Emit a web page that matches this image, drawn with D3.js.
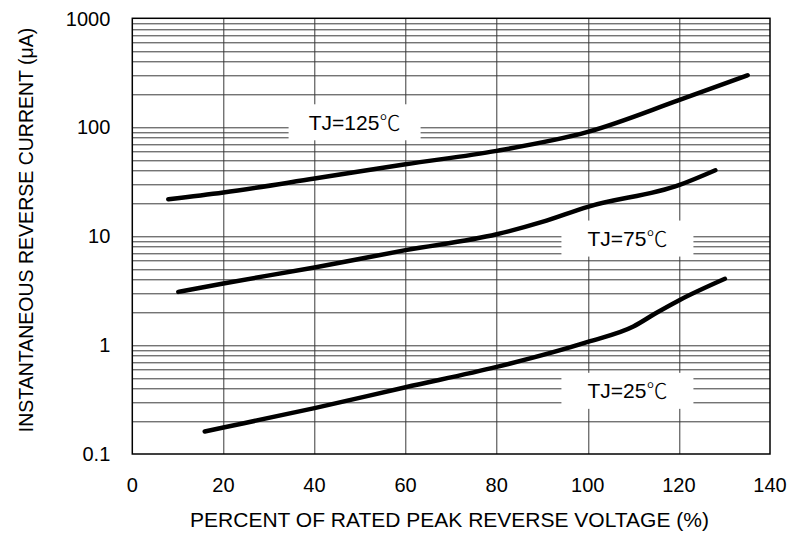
<!DOCTYPE html>
<html>
<head>
<meta charset="utf-8">
<script src="https://cdn.jsdelivr.net/npm/d3@7"></script>
<style>
  body { margin: 0; background: #fff; }
  text { font-family: "Liberation Sans", Arial, "Noto Sans CJK SC", sans-serif; fill: #000; }
</style>
</head>
<body>
<div id="chart"></div>
<script>
var margin = { top: 18.3, right: 38, bottom: 81, left: 132.3 },
  W = 808, H = 535,
  width = W - margin.left - margin.right,
  height = H - margin.top - margin.bottom;

// curves: [percent, uA]
var tj125 = [[7.9, 21.8], [20, 25.2], [40, 33.8], [60, 45.7], [80, 60.7], [100, 90.5], [120, 177], [135.1, 300]];
var tj75 = [[10.1, 3.08], [20, 3.68], [40, 5.16], [60, 7.44], [80, 10.4], [90, 13.5], [100, 18.6], [120, 29.4], [128, 40.3]];
var tj25 = [[15.9, 0.161], [20, 0.175], [40, 0.264], [60, 0.41], [80, 0.63], [100, 1.07], [110, 1.48], [115, 1.97], [120, 2.57], [130.1, 4.06]];
var curveLabels = ["TJ=125", "TJ=75", "TJ=25"];
var labelX = [48.8, 108.7, 108.7];
var labelY = [111, 9.5, 0.38];
var xTicks = [0, 20, 40, 60, 80, 100, 120, 140];
var yTicks = [0.1, 1, 10, 100, 1000];
var yTickLabels = ["0.1", "1", "10", "100", "1000"];

var svg = d3.select("#chart").append("svg")
    .attr("width", W)
    .attr("height", H);

var g = svg.append("g")
    .attr("transform", "translate(" + margin.left + "," + margin.top + ")");

var x = d3.scaleLinear().domain([0, 140]).range([0, width]);
var y = d3.scaleLog().domain([0.1, 1000]).range([height, 0]);

// minor log grid
var minor = [];
[0.1, 1, 10, 100].forEach(function (dec) {
  for (var k = 2; k <= 9; k++) minor.push(dec * k);
});

g.selectAll(".hgrid")
    .data(minor.concat(yTicks.slice(1, 4)))
    .enter().append("line")
    .attr("class", "hgrid")
    .attr("x1", 0).attr("x2", width)
    .attr("y1", function (d) { return Math.round(y(d)) + 0.5; })
    .attr("y2", function (d) { return Math.round(y(d)) + 0.5; })
    .style("stroke", "#3a3a3a")
    .style("stroke-width", 1);

g.selectAll(".vgrid")
    .data(xTicks.slice(1, 7))
    .enter().append("line")
    .attr("class", "vgrid")
    .attr("y1", 0).attr("y2", height)
    .attr("x1", function (d) { return Math.round(x(d)) + 0.5; })
    .attr("x2", function (d) { return Math.round(x(d)) + 0.5; })
    .style("stroke", "#3a3a3a")
    .style("stroke-width", 1);

// white boxes behind curve labels
var lab = g.selectAll(".lab")
    .data(curveLabels)
    .enter().append("g")
    .attr("class", "lab")
    .attr("transform", function (d, i) { return "translate(" + x(labelX[i]) + "," + y(labelY[i]) + ")"; });

lab.append("rect")
    .attr("x", -66).attr("y", -18)
    .attr("width", 132).attr("height", 36)
    .style("fill", "#fff");

var lt = lab.append("text")
    .attr("text-anchor", "middle")
    .attr("dy", "0.36em")
    .style("font-size", "21px");
lt.append("tspan").text(function (d) { return d; });
lt.append("tspan")
    .style("font-family", "'Noto Sans CJK SC'")
    .style("font-weight", 300)
    .text("\u2103");

// frame
g.append("rect")
    .attr("width", width).attr("height", height)
    .style("fill", "none")
    .style("stroke", "#000")
    .style("stroke-width", 1.5);

var line = d3.line()
    .x(function (d) { return x(d[0]); })
    .y(function (d) { return y(d[1]); })
    .curve(d3.curveMonotoneX);

g.selectAll(".curve")
    .data([tj125, tj75, tj25])
    .enter().append("path")
    .attr("class", "curve")
    .attr("d", line)
    .style("fill", "none")
    .style("stroke", "#000")
    .style("stroke-width", 4.5)
    .style("stroke-linecap", "round");

// tick labels
g.selectAll(".xlab")
    .data(xTicks)
    .enter().append("text")
    .attr("class", "xlab")
    .attr("x", function (d) { return x(d); })
    .attr("y", height + 38)
    .attr("text-anchor", "middle")
    .style("font-size", "20px")
    .text(function (d) { return d; });

g.selectAll(".ylab")
    .data(yTicks)
    .enter().append("text")
    .attr("class", "ylab")
    .attr("x", -22)
    .attr("y", function (d) { return y(d); })
    .attr("dy", "0.36em")
    .attr("text-anchor", "end")
    .style("font-size", "20px")
    .text(function (d, i) { return yTickLabels[i]; });

svg.append("text")
    .attr("x", 449.5)
    .attr("y", H - 8)
    .attr("text-anchor", "middle")
    .style("font-size", "21px")
    .text("PERCENT OF RATED PEAK REVERSE VOLTAGE (%)");

svg.append("text")
    .attr("transform", "translate(33,230) rotate(-90)")
    .attr("text-anchor", "middle")
    .style("font-size", "19.5px")
    .text("INSTANTANEOUS REVERSE CURRENT (\u03bcA)");
</script>
</body>
</html>
